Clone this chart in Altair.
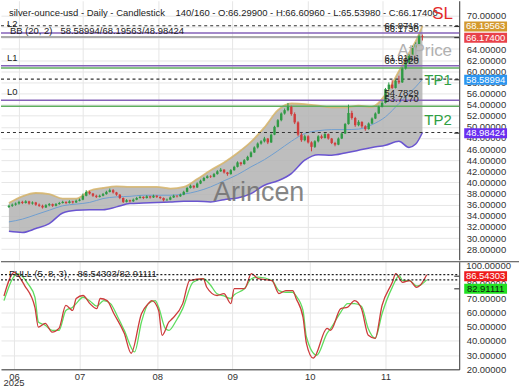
import altair as alt
import pandas as pd

# ------------------------------------------------------------------ data
bar_index = list(range(124))
opens = [35.6,35.8,36.0,36.2,36.5,36.3,36.6,36.2,36.4,36.0,
         35.8,35.5,35.9,36.1,35.8,36.1,36.3,36.5,36.3,36.6,
         36.4,36.7,36.9,37.6,38.3,38.0,37.6,37.4,37.6,37.9,
         38.3,38.6,38.2,37.8,37.2,36.5,36.8,36.6,36.9,37.2,
         37.4,37.2,37.5,37.3,37.6,37.4,37.2,36.8,36.9,37.3,
         37.6,37.5,37.8,38.3,39.0,39.4,39.1,39.8,40.3,40.8,
         41.1,41.0,41.5,42.0,42.3,41.8,41.5,42.2,42.8,43.6,
         43.3,44.0,44.6,45.4,46.3,47.0,47.4,47.9,47.2,48.6,
         50.0,51.2,52.4,53.0,53.6,52.3,50.8,48.6,47.6,48.3,
         47.2,46.4,47.4,48.3,48.0,48.7,47.9,47.1,46.8,47.9,
         48.8,50.5,52.5,51.6,50.3,50.9,50.1,49.6,50.6,51.5,
         52.4,53.6,54.3,56.8,57.6,57.0,58.3,58.0,60.5,61.6,
         62.9,64.3,64.9,66.299]
highs = [36.0,36.2,36.4,36.7,36.7,36.8,36.7,36.6,36.5,36.2,
         36.0,36.1,36.3,36.2,36.3,36.5,36.7,36.6,36.8,36.7,
         36.9,37.1,38.0,38.6,38.5,38.1,37.8,37.8,38.1,38.5,
         38.9,38.8,38.3,37.9,37.3,37.0,36.9,37.1,37.4,37.6,
         37.5,37.7,37.6,37.8,37.7,37.5,37.3,37.1,37.5,37.8,
         37.7,38.0,38.5,39.2,39.6,39.5,40.0,40.5,41.0,41.3,
         41.3,41.7,42.2,42.6,42.4,41.9,42.4,43.0,43.8,43.7,
         44.2,44.8,45.6,46.5,47.2,47.6,48.2,48.0,48.8,50.2,
         51.4,52.6,53.3,54.3,53.8,52.6,51.0,48.9,48.6,48.5,
         47.4,47.6,48.5,48.6,48.9,48.8,48.0,47.3,48.1,49.0,
         50.7,54.0,52.9,51.8,51.2,51.0,50.3,50.8,51.7,52.6,
         53.8,54.6,57.0,58.0,58.4,58.5,59.2,60.7,61.9,63.1,
         64.6,65.2,66.6,66.6096]
lows = [35.4,35.6,35.8,36.0,36.1,36.2,36.0,36.0,35.8,35.6,
        35.3,35.4,35.7,35.6,35.7,36.0,36.2,36.1,36.2,36.2,
        36.3,36.6,36.8,37.5,37.8,37.4,37.2,37.3,37.5,37.8,
        38.2,38.0,37.6,37.0,36.3,36.4,36.4,36.5,36.8,37.1,
        37.0,37.1,37.1,37.2,37.2,37.0,36.6,36.7,36.8,37.2,
        37.3,37.4,37.7,38.2,38.9,38.9,39.0,39.7,40.2,40.7,
        40.8,40.9,41.4,41.9,41.6,41.2,41.4,42.1,42.7,43.0,
        43.2,43.9,44.5,45.3,46.1,46.8,47.2,46.9,47.1,48.5,
        49.9,51.0,52.2,52.8,52.0,50.5,48.3,47.3,47.4,47.0,
        45.6,46.2,47.2,47.8,47.9,47.7,46.9,46.5,46.7,47.8,
        48.7,50.4,51.3,50.0,50.1,49.8,49.3,49.5,50.5,51.4,
        52.3,53.5,54.2,56.6,56.8,56.9,57.7,57.9,60.3,61.4,
        62.7,63.9,64.7,65.5398]
closes = [35.8,36.0,36.2,36.5,36.3,36.6,36.2,36.4,36.0,35.8,
          35.5,35.9,36.1,35.8,36.1,36.3,36.5,36.3,36.6,36.4,
          36.7,36.9,37.6,38.3,38.0,37.6,37.4,37.6,37.9,38.3,
          38.6,38.2,37.8,37.2,36.5,36.8,36.6,36.9,37.2,37.4,
          37.2,37.5,37.3,37.6,37.4,37.2,36.8,36.9,37.3,37.6,
          37.5,37.8,38.3,39.0,39.4,39.1,39.8,40.3,40.8,41.1,
          41.0,41.5,42.0,42.3,41.8,41.5,42.2,42.8,43.6,43.3,
          44.0,44.6,45.4,46.3,47.0,47.4,47.9,47.2,48.6,50.0,
          51.2,52.4,53.0,53.6,52.3,50.8,48.6,47.6,48.3,47.2,
          46.4,47.4,48.3,48.0,48.7,47.9,47.1,46.8,47.9,48.8,
          50.5,52.5,51.6,50.3,50.9,50.1,49.6,50.6,51.5,52.4,
          53.6,54.3,56.8,57.6,57.0,58.3,58.0,60.5,61.6,62.9,
          64.3,64.9,66.3,66.174]

bb_index = [0,4,8,12,16,20,24,28,32,36,40,44,48,52,56,60,64,68,72,76,
            80,84,88,92,96,100,104,108,112,116,119,121,123]
bb_upper = [36.3,37.5,38.1,37.9,37.1,37.1,38.5,39.0,39.3,39.2,39.2,39.2,38.9,
            39.2,40.6,42.2,43.6,45.3,47.3,49.9,53.0,54.2,54.1,53.8,53.5,53.5,
            53.8,53.6,55.8,60.0,63.3,65.4,68.19563]
bb_mid = [32.9,33.4,34.2,35.0,35.8,36.1,36.4,37.1,37.4,37.5,37.7,37.7,37.7,
          37.9,38.4,39.2,40.3,41.4,42.8,44.1,45.7,47.4,48.8,49.3,49.5,49.5,
          49.6,50.4,51.8,54.2,56.0,57.2,58.58994]
bb_lower = [31.2,31.0,31.7,32.6,34.5,35.0,35.1,35.1,35.6,36.2,36.3,36.4,36.5,
            36.6,36.6,36.5,36.9,37.2,38.0,39.5,40.3,41.6,44.0,45.0,44.9,45.3,
            45.8,46.3,46.7,47.4,46.3,46.9,48.98424]

k_index = [0,3,6,9,10,12,14,16,18,20,21,23,25,27,28,30,32,35,37,40,42,43,45,46,48,
           49,52,54,58,59,62,64,66,67,70,72,74,78,80,82,84,85,87,88,90,94,95,98,100,
           102,104,106,108,110,113,114,116,118,120,121,123]
k_values = [71.6,88.2,78.9,63.6,49.7,52.3,46.2,48.8,64.9,61.4,69.8,71.9,66.2,62.7,69.8,
            68.3,59.1,45.3,31.3,59.1,66.2,68.3,61.4,43.9,53.3,55.7,66.2,82.4,83.7,77.7,
            71.9,73.3,66.2,76.8,76.8,87.3,83.7,82.4,73.3,75.4,75.4,69.8,56.7,38.3,27.9,
            48.8,47.4,62.7,63.7,68.3,62.7,43.9,41.8,64.9,81.2,87.3,81.2,82.4,77.7,78.9,
            86.54303]
d_index = [0,4,7,9,10,12,14,16,18,20,21,23,25,27,29,31,33,35,38,40,42,44,45,47,48,
           50,52,55,58,60,62,64,66,67,70,72,74,78,80,82,84,85,87,88,91,94,95,98,100,
           102,104,106,108,110,113,115,116,118,120,121,123]
d_values = [68.3,87.3,80.1,70.7,53.3,51.0,47.4,47.4,61.4,63.7,66.2,70.7,68.0,64.4,68.3,
            66.2,57.3,47.4,32.2,53.3,66.2,68.3,63.6,48.5,47.4,53.8,62.7,81.2,83.7,79.5,
            73.1,71.6,69.8,72.4,76.8,83.7,84.9,82.4,75.4,74.2,74.2,71.6,61.4,42.7,29.9,
            45.3,48.5,60.3,66.2,66.2,64.4,48.5,41.8,59.1,77.8,85.8,82.4,82.4,78.7,79.1,
            82.91111]

month_pos = [2.9, 22.0, 44.6, 66.4, 89.0, 111.0]
month_labels = ["06", "07", "08", "09", "10", "11"]
year_label = "2025"

bb_last = [68.19563, 58.58994, 48.98424]         # upper, middle, lower
last_close = 66.17400
level_names = ["L2", "L1", "L0"]
level_a = [66.8718, 61.0146, 54.7829]            # purple lines
level_b = [66.1730, 60.5920, 53.7170]            # second lines
stoch_last = [86.54303, 82.91111]
upper_ticks = list(range(28, 71, 2))
lower_ticks = [20, 30, 40, 50, 60, 70, 80]

NB = "\u00a0"
title_text = ("silver-ounce-usd - Daily - Candlestick" + NB * 4 + "140/160 - O:66.29900 - "
              "H:66.60960 - L:65.53980 - C:66.17400")
bb_text = "BB (20, 2)" + NB * 3 + "58.58994/68.19563/48.98424"
stoch_text = "FULL (5, 8, 3)," + NB * 3 + "86.54303/82.91111"

# ------------------------------------------------------------------ layout
W, H1, H2 = 460, 260, 108
FONT = "Liberation Sans"
GRID = "#e6e6e6"
xs = alt.Scale(domain=[-0.87, 132.46], nice=False, zero=False)
y1s = alt.Scale(domain=[26.09, 72.69], nice=False, zero=False)
y2s = alt.Scale(domain=[19.99, 95.66], nice=False, zero=False)

label_expr = " : ".join(f"abs(datum.value - {p}) < 0.5 ? '{m}'"
                        for p, m in zip(month_pos, month_labels)) + " : ''"

up_x_axis = alt.Axis(values=month_pos, labels=False, ticks=False, domain=False,
                     grid=True, gridColor=GRID, title=None)
up_y_axis = alt.Axis(orient="right", values=upper_ticks, format=".5f",
                     grid=True, gridColor=GRID, domain=True, domainColor="#333",
                     ticks=False, labelPadding=7, labelFontSize=9.5,
                     labelColor="#333", title=None, labelOverlap=False)
lo_x_axis = alt.Axis(values=month_pos, labelExpr=label_expr, ticks=False, grid=True,
                     gridColor=GRID, domain=True, domainColor="#333",
                     labelFontSize=9.5, labelPadding=2, labelColor="#333",
                     title=None, labelFlush=False, labelOverlap=False)
lo_y_axis = alt.Axis(orient="right", values=lower_ticks, format=".5f", grid=True,
                     gridColor=GRID, domain=True, domainColor="#333", ticks=False,
                     labelPadding=7, labelFontSize=9.5, labelColor="#333",
                     title=None, labelOverlap=False)


def X1(f):
    return alt.X(f"{f}:Q", scale=xs, axis=up_x_axis)


def Y1(f):
    return alt.Y(f"{f}:Q", scale=y1s, axis=up_y_axis)


def X2(f):
    return alt.X(f"{f}:Q", scale=xs, axis=lo_x_axis)


def Y2(f):
    return alt.Y(f"{f}:Q", scale=y2s, axis=lo_y_axis)


def note(text, x, y, size=9.5, color="#222", align="left", opacity=1.0):
    return alt.Chart(pd.DataFrame({"t": [text]})).mark_text(
        align=align, baseline="middle", fontSize=size, color=color,
        opacity=opacity).encode(x=alt.value(x), y=alt.value(y), text="t:N")


def hrule(values, color, Y, width=1.2, dash=None):
    kw = dict(color=color, strokeWidth=width)
    if dash:
        kw["strokeDash"] = dash
    return alt.Chart(pd.DataFrame({"v": values})).mark_rule(**kw).encode(
        y=Y("v"), x=alt.value(0), x2=alt.value(W))


def badge(value, bg, fg, Y, offset=0.7):
    df = pd.DataFrame({"v": [value], "t": [f"{value:.5f}"]})
    r = alt.Chart(df).mark_rect(color=bg, yOffset=offset - 5, y2Offset=offset + 5).encode(
        y=Y("v"), y2="v:Q", x=alt.value(465), x2=alt.value(508))
    tk = alt.Chart(df).mark_rule(color="#222", strokeWidth=1, yOffset=offset).encode(
        y=Y("v"), x=alt.value(455), x2=alt.value(460))
    t = alt.Chart(df).mark_text(color=fg, fontSize=9.5, dy=offset,
                                align="center", baseline="middle").encode(
        y=Y("v"), x=alt.value(486.5), text="t:N")
    return [r, tk, t]


# ------------------------------------------------------------------ upper panel
bb = pd.DataFrame({"i": bb_index, "up": bb_upper, "mid": bb_mid, "lo": bb_lower})
area = alt.Chart(bb).mark_area(color="#b3b3b3", opacity=0.85,
                               interpolate="monotone").encode(
    x=X1("i"), y=Y1("up"), y2="lo:Q")


def bb_line(field, color, width, opacity=1.0):
    return alt.Chart(bb).mark_line(color=color, strokeWidth=width, opacity=opacity,
                                   interpolate="monotone").encode(
        x=X1("i"), y=Y1(field))


cdf = pd.DataFrame({"i": bar_index, "o": opens, "h": highs, "l": lows, "c": closes})
cdf["dir"] = ["up" if c >= o else "down" for o, c in zip(opens, closes)]
dir_color = alt.Color("dir:N", scale=alt.Scale(domain=["up", "down"],
                                               range=["#2f9a45", "#cf3d3d"]),
                      legend=None)
wicks = alt.Chart(cdf).mark_rule(strokeWidth=1).encode(
    x=X1("i"), y=Y1("l"), y2="h:Q", color=dir_color)
bodies = alt.Chart(cdf).mark_bar(size=2.4).encode(
    x=X1("i"), y=Y1("o"), y2="c:Q", color=dir_color)

lvl_df = pd.DataFrame({"v": level_a + level_b,
                       "t": [f"{v:.4f}" for v in level_a + level_b]})
lvl_text = alt.Chart(lvl_df).mark_text(align="left", baseline="middle", fontSize=9.5,
                                       color="#222", dy=-7.5).encode(
    x=alt.value(385), y=Y1("v"), text="t:N")

upper_layers = [
    area,
    bb_line("up", "#d6b46a", 1.8, 0.85),
    bb_line("lo", "#6a55d0", 1.5),
    bb_line("mid", "#6f9fd0", 1.0),
    hrule(bb_last, "#333", Y1, 1.2, [3, 3]),
    hrule(level_a, "#8462b8", Y1, 1.5),
    hrule([level_b[0]], "#8f8f8f", Y1, 1.5),
    hrule([level_b[1], level_b[2]], "#5fae5f", Y1, 1.5),
    wicks, bodies, lvl_text,
    note(title_text, 8, 12),
    note(level_names[0], 6, 23),
    note(bb_text, 9, 30),
    note(level_names[1], 6, 57),
    note(level_names[2], 6, 92),
    note("SL", 433, 13, 17, "#e32b2b"),
    note("AtPrice", 398, 50, 17, "#b0b0b0"),
    note("TP1", 425, 80, 15, "#2ea043"),
    note("TP2", 425, 120, 15, "#2ea043"),
    note("Arincen", 213, 193, 27, "#707070", opacity=0.85),
]
upper_layers += badge(bb_last[0], "#d4992e", "#ffffff", Y1)
upper_layers += badge(last_close, "#e8424a", "#ffffff", Y1)
upper_layers += badge(bb_last[1], "#2b95f0", "#ffffff", Y1)
upper_layers += badge(bb_last[2], "#6a2ff0", "#ffffff", Y1)
upper = alt.layer(*upper_layers).properties(width=W, height=H1)

# ------------------------------------------------------------------ lower panel
ddf = pd.DataFrame({"i": d_index, "v": d_values})
kdf = pd.DataFrame({"i": k_index, "v": k_values})
dline = alt.Chart(ddf).mark_line(color="#5fdc5f", strokeWidth=1.3,
                                 interpolate="monotone").encode(x=X2("i"), y=Y2("v"))
kline = alt.Chart(kdf).mark_line(color="#cc3b3b", strokeWidth=1.3,
                                 interpolate="monotone").encode(x=X2("i"), y=Y2("v"))

sep = alt.Chart(pd.DataFrame({"a": [0]})).mark_rule(color="#444", strokeWidth=1).encode(
    x=alt.value(0), x2=alt.value(520), y=alt.value(0))
year = alt.Chart(pd.DataFrame({"i": [month_pos[0]], "t": [year_label]})).mark_text(
    fontSize=9.5, color="#333", baseline="middle").encode(
    x=X2("i"), y=alt.value(H2 + 14), text="t:N")

lower_layers = [
    dline, kline,
    hrule(stoch_last, "#222", Y2, 1.2, [2, 2]),
    sep, year,
    note(stoch_text, 8, 12),
    note("100.00000", 467, 4, 9.5, "#333"),
]
lower_layers += badge(stoch_last[0], "#ee1c1c", "#ffffff", Y2, 1.5)
lower_layers += badge(stoch_last[1], "#22e022", "#111111", Y2, 9.0)
lower = alt.layer(*lower_layers).properties(width=W, height=H2)

chart = (alt.vconcat(upper, lower, spacing=1)
         .properties(padding=0)
         .configure(font=FONT)
         .configure_view(stroke=None))

chart.save("out.html", embed_options={"renderer": "svg", "actions": False})
